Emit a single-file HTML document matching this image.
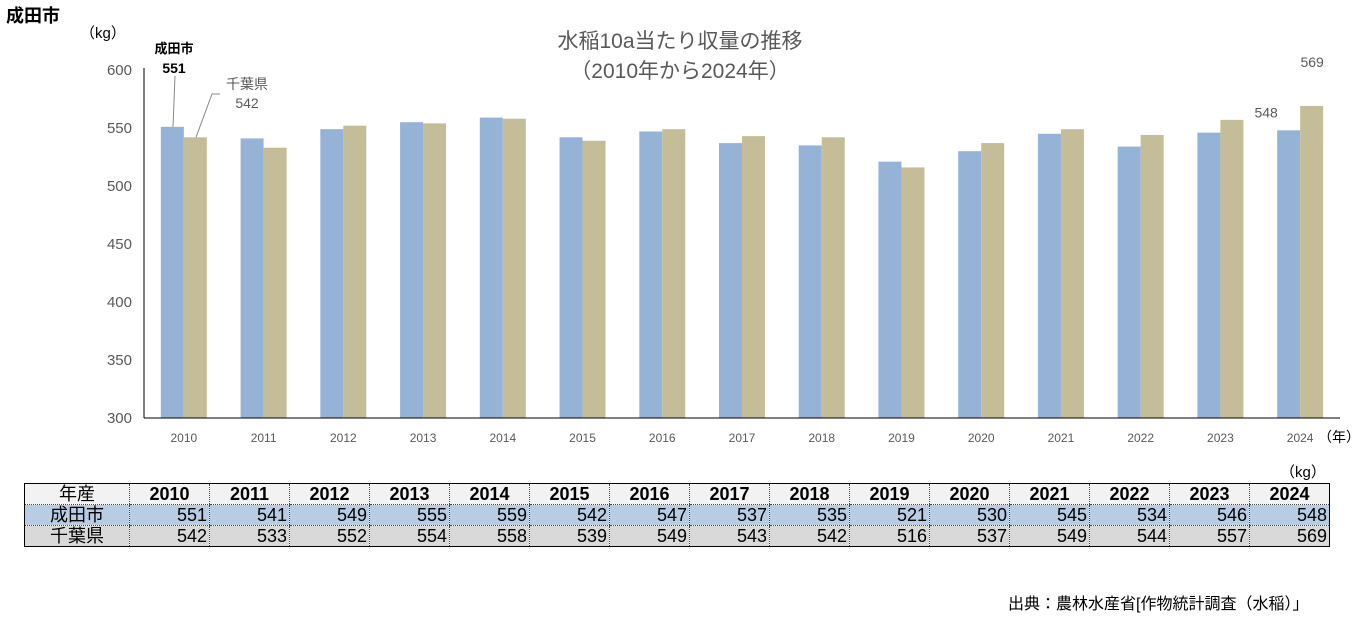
<!DOCTYPE html>
<html><head><meta charset="utf-8">
<style>
body{margin:0;width:1366px;height:621px;background:#fff;font-family:"Liberation Sans","Noto Sans CJK JP",sans-serif;overflow:hidden;position:relative}
.abs{position:absolute}
table{position:absolute;left:24px;top:483px;width:1306px;table-layout:fixed;border-collapse:collapse;font-family:"Liberation Sans","Noto Sans CJK JP",sans-serif}
td{height:20px;padding:0 2px;font-size:18px;line-height:20px;border-left:1px dotted #444;border-bottom:1px dotted #444;text-align:right;overflow:hidden;white-space:nowrap}
td:first-child{text-align:center;border-left:none}
tr.h td{background:#f2f2f2;font-weight:bold;text-align:center}
tr.h td:first-child{font-weight:normal}
tr.a td{background:#b8cce4}
tr.b td{background:#d9d9d9;border-bottom:none}
</style></head><body>
<div class="abs" style="left:6px;top:2px;font-size:18px;font-weight:bold">成田市</div>
<svg id="chart" width="1366" height="482" style="position:absolute;left:0;top:0" font-family="Liberation Sans, Noto Sans CJK JP, sans-serif"></svg>
<table style="border:1px solid #000">
<colgroup><col style="width:105px"></colgroup>
<tbody id="tb"></tbody></table>
<div class="abs" style="left:1008px;top:590px;font-size:16px">出典：農林水産省[作物統計調査（水稲）」</div>
<script>
const years=["2010","2011","2012","2013","2014","2015","2016","2017","2018","2019","2020","2021","2022","2023","2024"];
const narita=[551,541,549,555,559,542,547,537,535,521,530,545,534,546,548];
const chiba=[542,533,552,554,558,539,549,543,542,516,537,549,544,557,569];
const yTicks=[300,350,400,450,500,550,600];
const NS="http://www.w3.org/2000/svg";
const svg=document.getElementById('chart');
const L=144,R=1340,T=70,B=418,ymin=300,ymax=600;
const cw=(R-L)/years.length;
function y(v){return B-(v-ymin)/(ymax-ymin)*(B-T);}
function x(i){return L+cw*i+cw/2;}
function mk(t,a,txt){const e=document.createElementNS(NS,t);for(const k in a)e.setAttribute(k,a[k]);if(txt!==undefined)e.textContent=txt;svg.appendChild(e);return e;}
let e;
e=mk('text',{x:680,y:48,'font-size':21,fill:'#595959','text-anchor':'middle'},'水稲10a当たり収量の推移');

e=mk('text',{x:680,y:78,'font-size':21,fill:'#595959','text-anchor':'middle'},'（2010年から2024年）');

e=mk('text',{x:80,y:38,'font-size':15,fill:'#000'},'（kg）');

yTicks.forEach(v=>{const t=mk('text',{x:132,y:y(v)+5,'font-size':15,fill:'#595959','text-anchor':'end'},v);
});
years.forEach((yr,i)=>{
 const bw=23;
 const b1=mk('rect',{x:x(i)-bw,y:y(narita[i]),width:bw,height:B-y(narita[i]),fill:'#95b3d7'});
 
 const b2=mk('rect',{x:x(i),y:y(chiba[i]),width:bw,height:B-y(chiba[i]),fill:'#c4bd97'});
 
 const t=mk('text',{x:x(i),y:442,'font-size':12,fill:'#595959','text-anchor':'middle'},yr);
 
});
mk('line',{x1:L,y1:T-2,x2:L,y2:B,stroke:'#000','stroke-width':1});
mk('line',{x1:L,y1:B,x2:R,y2:B,stroke:'#000','stroke-width':1});
e=mk('text',{x:1318,y:442,'font-size':14,fill:'#000'},'（年）');

mk('line',{x1:173,y1:y(narita[0]),x2:175,y2:76,stroke:'#888'});
e=mk('text',{x:174,y:53,'font-size':13,'font-weight':'bold','text-anchor':'middle'},'成田市');

e=mk('text',{x:174,y:73,'font-size':14,'font-weight':'bold','text-anchor':'middle'},narita[0]);

mk('polyline',{points:`196,${y(chiba[0])} 212,94 220,94`,stroke:'#888',fill:'none'});
e=mk('text',{x:247,y:89,'font-size':14,fill:'#595959','text-anchor':'middle'},'千葉県');

e=mk('text',{x:247,y:108,'font-size':14,fill:'#595959','text-anchor':'middle'},chiba[0]);

const li=years.length-1;
e=mk('text',{x:x(li)-34,y:y(narita[li])-13,'font-size':14,fill:'#595959','text-anchor':'middle'},narita[li]);

e=mk('text',{x:x(li)+12,y:y(chiba[li])-39,'font-size':14,fill:'#595959','text-anchor':'middle'},chiba[li]);

e=mk('text',{x:1280,y:477,'font-size':15,fill:'#000'},'（kg）');

const tb=document.getElementById('tb');
function row(cls,label,vals,name){const tr=document.createElement('tr');tr.className=cls;
 
 let h='<td>'+label+'</td>';vals.forEach(v=>h+='<td>'+v+'</td>');tr.innerHTML=h;tb.appendChild(tr);}
row('h','年産',years,'table-header-row');
row('a','成田市',narita,'table-narita-row');
row('b','千葉県',chiba,'table-chiba-row');
</script>
</body></html>
